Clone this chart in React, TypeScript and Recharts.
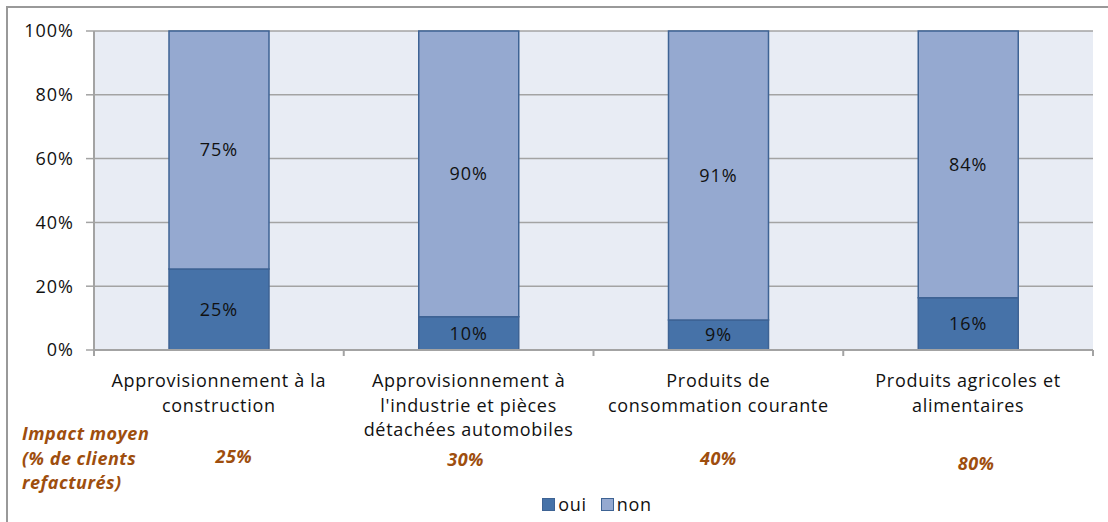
import { Bar, BarChart, CartesianGrid, LabelList, Legend, XAxis, YAxis } from "recharts";

const categories = [
  "Approvisionnement à la construction",
  "Approvisionnement à l'industrie et pièces détachées automobiles",
  "Produits de consommation courante",
  "Produits agricoles et alimentaires",
];
const categoryLines = [
  ["Approvisionnement à la", "construction"],
  ["Approvisionnement à", "l'industrie et pièces", "détachées automobiles"],
  ["Produits de", "consommation  courante"],
  ["Produits agricoles et", "alimentaires"],
];
const oui = [25.4, 10.4, 9.4, 16.4];
const non = [74.6, 89.6, 90.6, 83.6];
const impact = ["25%", "30%", "40%", "80%"];
const impactTitle = ["Impact moyen", "(% de clients", "refacturés)"];
const yTicks = [0, 20, 40, 60, 80, 100];

const data = categories.map((name, i) => ({ name, oui: oui[i], non: non[i] }));

const colors = {
  oui: "#4672A8",
  non: "#95A9D0",
  border: "#3E6394",
  grid: "#A3A3A3",
  plot: "#E8ECF4",
  impact: "#9E4E0E",
  text: "#111",
};

const W = 1108;
const H = 522;
const band = 999 / 4;
const impactNudge = [15, -3, 0, 8];
const impactDrop = [0, 3, 2, 7];

const pct = (v: any) => `${Math.round(Number(v))}%`;

function CategoryTick(props: any) {
  const { x, y, index } = props;
  const lines = categoryLines[index] ?? [];
  return (
    <g>
      {index === 0 && (
        <line x1={x - band / 2} x2={x - band / 2} y1={y} y2={y + 6} stroke={colors.grid} strokeWidth={2} />
      )}
      <line x1={x + band / 2} x2={x + band / 2} y1={y} y2={y + 6} stroke={colors.grid} strokeWidth={2} />
      {lines.map((l, k) => (
        <text
          key={k}
          x={x}
          y={y + 37 + k * 24.5}
          textAnchor="middle"
          fontSize={18}
          letterSpacing={0.7}
          fill={colors.text}
        >
          {l}
        </text>
      ))}
      <text
        x={x + impactNudge[index]}
        y={y + 113 + impactDrop[index]}
        textAnchor="middle"
        fontSize={18}
        letterSpacing={0.5}
        fontWeight="bold"
        fontStyle="italic"
        fill={colors.impact}
      >
        {impact[index]}
      </text>
      {index === 0 &&
        impactTitle.map((l, k) => (
          <text
            key={k}
            x={22}
            y={y + 90 + k * 24.5}
            fontSize={18}
            letterSpacing={0.5}
            fontWeight="bold"
            fontStyle="italic"
            fill={colors.impact}
          >
            {l}
          </text>
        ))}
    </g>
  );
}

function LegendBox() {
  const items = [
    { label: "oui", fill: colors.oui },
    { label: "non", fill: colors.non },
  ];
  return (
    <div
      style={{
        width: W,
        height: 36,
        display: "flex",
        justifyContent: "center",
        alignItems: "center",
        paddingLeft: 86,
        boxSizing: "border-box",
        fontSize: 18,
        letterSpacing: 0.7,
        color: colors.text,
        gap: 14,
      }}
    >
      {items.map((it) => (
        <div key={it.label} style={{ display: "flex", alignItems: "center", gap: 3 }}>
          <span
            style={{
              display: "inline-block",
              width: 11,
              height: 11,
              background: it.fill,
              border: `1px solid ${colors.border}`,
            }}
          />
          <span>{it.label}</span>
        </div>
      ))}
    </div>
  );
}

export default function App() {
  return (
    <div style={{ position: "relative", width: W, height: H, fontFamily: "'Open Sans', sans-serif", background: "#fff" }}>
      <style>{`body{margin:0}`}</style>
      <div style={{ position: "absolute", left: 6, top: 6, width: W - 6, height: 2, background: "#999" }} />
      <div style={{ position: "absolute", left: 6, top: 6, width: 2, height: H - 6, background: "#999" }} />
      <BarChart width={W} height={H} data={data} margin={{ top: 31, right: 15, left: 8, bottom: 0 }}>
        <CartesianGrid vertical={false} stroke={colors.grid} strokeWidth={1.5} fill={colors.plot} />
        <XAxis
          dataKey="name"
          height={136}
          interval={0}
          tickLine={false}
          tickSize={0}
          tickMargin={0}
          axisLine={{ stroke: colors.grid, strokeWidth: 2 }}
          tick={<CategoryTick />}
        />
        <YAxis
          width={86}
          domain={[0, 100]}
          ticks={yTicks}
          tickFormatter={(v) => `${v}%`}
          tickSize={8}
          tickMargin={12}
          tickLine={{ stroke: colors.grid, strokeWidth: 1.5 }}
          axisLine={{ stroke: colors.grid, strokeWidth: 2 }}
          tick={{ fill: colors.text, fontSize: 18, letterSpacing: 1 }}
        />
        <Legend verticalAlign="bottom" wrapperStyle={{ left: 0, width: W }} content={<LegendBox />} />
        <Bar dataKey="oui" name="oui" stackId="a" barSize={100} fill={colors.oui} stroke={colors.border} strokeWidth={1.5} isAnimationActive={false}>
          <LabelList dataKey="oui" position="center" formatter={pct} fill={colors.text} fontSize={18} letterSpacing={1} />
        </Bar>
        <Bar dataKey="non" name="non" stackId="a" barSize={100} fill={colors.non} stroke={colors.border} strokeWidth={1.5} isAnimationActive={false}>
          <LabelList dataKey="non" position="center" formatter={pct} fill={colors.text} fontSize={18} letterSpacing={1} />
        </Bar>
      </BarChart>
    </div>
  );
}
